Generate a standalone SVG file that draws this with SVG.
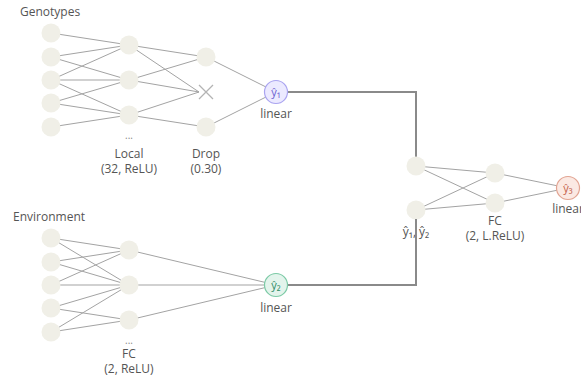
<svg xmlns="http://www.w3.org/2000/svg" width="581" height="379" viewBox="0 0 581 379">
<style>
.n{fill:#f0efe7;stroke:none}
.e{stroke:#a3a3a3;stroke-width:1;fill:none}
.c{stroke:#8a8a8a;stroke-width:2;fill:none}
.t{font-family:"Open Sans","Noto Sans",sans-serif;font-size:12px;fill:#555}
.m{text-anchor:middle}
.d{font-family:"Open Sans",sans-serif;font-size:10px;fill:#888;text-anchor:middle}
.y{font-family:"Open Sans","Noto Sans",sans-serif;font-size:11px;text-anchor:middle}
</style>
<rect width="581" height="379" fill="#fff"/>
<g id="connectors">
<g class="e">
<line x1="51" y1="33" x2="129" y2="45"/>
<line x1="51" y1="57" x2="129" y2="45"/>
<line x1="51" y1="80" x2="129" y2="45"/>
<line x1="51" y1="57" x2="129" y2="80"/>
<line x1="51" y1="80" x2="129" y2="80"/>
<line x1="51" y1="103" x2="129" y2="80"/>
<line x1="51" y1="80" x2="129" y2="115"/>
<line x1="51" y1="103" x2="129" y2="115"/>
<line x1="51" y1="127" x2="129" y2="115"/>
<line x1="129" y1="45" x2="206" y2="57"/>
<line x1="129" y1="45" x2="199" y2="92"/>
<line x1="129" y1="80" x2="206" y2="57"/>
<line x1="129" y1="80" x2="199" y2="92"/>
<line x1="129" y1="115" x2="199" y2="92"/>
<line x1="129" y1="115" x2="206" y2="127"/>
<line x1="206" y1="57" x2="276" y2="92"/>
<line x1="206" y1="127" x2="276" y2="92"/>
<line x1="51" y1="238" x2="129" y2="250"/>
<line x1="51" y1="238" x2="129" y2="285"/>
<line x1="51" y1="262" x2="129" y2="250"/>
<line x1="51" y1="262" x2="129" y2="285"/>
<line x1="51" y1="285" x2="129" y2="250"/>
<line x1="51" y1="285" x2="129" y2="285"/>
<line x1="51" y1="308" x2="129" y2="285"/>
<line x1="51" y1="308" x2="129" y2="320"/>
<line x1="51" y1="332" x2="129" y2="285"/>
<line x1="51" y1="332" x2="129" y2="320"/>
<line x1="129" y1="250" x2="276" y2="285"/>
<line x1="129" y1="285" x2="276" y2="285"/>
<line x1="129" y1="320" x2="276" y2="285"/>
<line x1="416" y1="166" x2="495" y2="173"/>
<line x1="416" y1="166" x2="495" y2="203"/>
<line x1="416" y1="210" x2="495" y2="173"/>
<line x1="416" y1="210" x2="495" y2="203"/>
<line x1="495" y1="173" x2="568" y2="188"/>
<line x1="495" y1="203" x2="568" y2="188"/>
</g>
<path class="c" d="M287.5 92H416V166"/>
<path class="c" d="M287.5 285H416V210"/>
</g>
<g id="genotypes-input">
<circle class="n" cx="51" cy="33" r="9.5"/>
<circle class="n" cx="51" cy="57" r="9.5"/>
<circle class="n" cx="51" cy="80" r="9.5"/>
<circle class="n" cx="51" cy="103" r="9.5"/>
<circle class="n" cx="51" cy="127" r="9.5"/>
<text class="t" x="20" y="16">Genotypes</text>
</g>
<g id="local-layer">
<circle class="n" cx="129" cy="45" r="9.5"/>
<circle class="n" cx="129" cy="80" r="9.5"/>
<circle class="n" cx="129" cy="115" r="9.5"/>
<text class="d" x="129" y="139">...</text>
<text class="t m" x="129" y="158">Local</text>
<text class="t m" x="129" y="173">(32, ReLU)</text>
</g>
<g id="dropout-layer">
<circle class="n" cx="206" cy="57" r="9.5"/>
<path d="M199 85L213 99M213 85L199 99" stroke="#b3b3b3" stroke-width="1.3" fill="none"/>
<circle class="n" cx="206" cy="127" r="9.5"/>
<text class="t m" x="206" y="158">Drop</text>
<text class="t m" x="206" y="173">(0.30)</text>
</g>
<g id="y1">
<circle cx="276" cy="92" r="11.5" fill="#eceaff" stroke="#aaa4f0" stroke-width="1.2"/>
<text class="y" x="276" y="96" fill="#6b5fd0">ŷ₁</text>
<text class="t m" x="276" y="118">linear</text>
</g>
<g id="environment-input">
<circle class="n" cx="51" cy="238" r="9.5"/>
<circle class="n" cx="51" cy="262" r="9.5"/>
<circle class="n" cx="51" cy="285" r="9.5"/>
<circle class="n" cx="51" cy="308" r="9.5"/>
<circle class="n" cx="51" cy="332" r="9.5"/>
<text class="t" x="13" y="221">Environment</text>
</g>
<g id="fc-layer">
<circle class="n" cx="129" cy="250" r="9.5"/>
<circle class="n" cx="129" cy="285" r="9.5"/>
<circle class="n" cx="129" cy="320" r="9.5"/>
<text class="d" x="129" y="344">...</text>
<text class="t m" x="129" y="358">FC</text>
<text class="t m" x="129" y="373">(2, ReLU)</text>
</g>
<g id="y2">
<circle cx="276" cy="285" r="11.5" fill="#e3f4ec" stroke="#7ccaa6" stroke-width="1.2"/>
<text class="y" x="276" y="289" fill="#2f8c68">ŷ₂</text>
<text class="t m" x="276" y="312">linear</text>
</g>
<g id="concat-layer">
<circle class="n" cx="416" cy="166" r="9.5"/>
<circle class="n" cx="416" cy="210" r="9.5"/>
<text class="t m" x="416" y="236">ŷ₁, ŷ₂</text>
<line x1="416" y1="219" x2="416" y2="240" stroke="#8a8a8a" stroke-width="2"/>
</g>
<g id="fc2-layer">
<circle class="n" cx="495" cy="173" r="9.5"/>
<circle class="n" cx="495" cy="203" r="9.5"/>
<text class="t m" x="495" y="225">FC</text>
<text class="t m" x="495" y="240">(2, L.ReLU)</text>
</g>
<g id="y3">
<circle cx="568" cy="188" r="11.5" fill="#fbe9e3" stroke="#e2a492" stroke-width="1.2"/>
<text class="y" x="568" y="192" fill="#c4604a">ŷ₃</text>
<text class="t m" x="568" y="213">linear</text>
</g>
</svg>
